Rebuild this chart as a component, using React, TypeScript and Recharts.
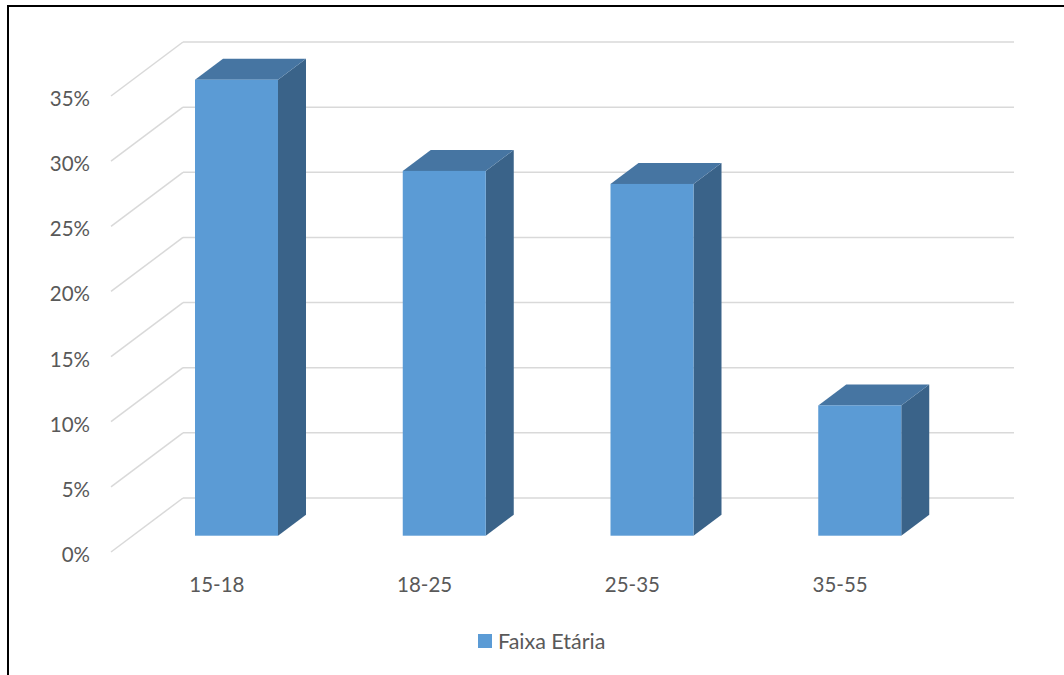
import React from "react";
import { BarChart, Bar, XAxis, YAxis, CartesianGrid, Legend } from "recharts";

// Age-group distribution (percent of respondents)
const categories = ["15-18", "18-25", "25-35", "35-55"];
const shares = [35, 28, 27, 10];
const yTicks = [0, 5, 10, 15, 20, 25, 30, 35];
const seriesName = "Faixa Etária";

const data = categories.map((faixa, i) => ({ faixa, valor: shares[i] }));

// Oblique projection used for the pseudo-3D look
const FLOOR_DX = -72; // back wall -> front edge of the floor
const FLOOR_DY = 54;
const BAR_DX = -50; // back wall -> front face of the columns
const BAR_DY = 37.7;
const DEPTH_DX = 28; // column thickness
const DEPTH_DY = -21;

const FRONT = "#5B9BD5";
const TOP = "#4675A2";
const SIDE = "#3A6389";
const GRID = "#D9D9D9";
const TEXT = "#595959";
const FONT = "Lato, 'Liberation Sans', sans-serif";

const Column = (props: any) => {
  const { x, y, width, height } = props;
  if (height == null || width == null) return null;
  const fx = x + BAR_DX;
  const fy = y + BAR_DY;
  const pts = (arr: number[][]) => arr.map((p) => p.join(",")).join(" ");
  return (
    <g>
      <polygon
        points={pts([
          [fx + width, fy],
          [fx + width + DEPTH_DX, fy + DEPTH_DY],
          [fx + width + DEPTH_DX, fy + height + DEPTH_DY],
          [fx + width, fy + height],
        ])}
        fill={SIDE}
      />
      <polygon
        points={pts([
          [fx, fy],
          [fx + width, fy],
          [fx + width + DEPTH_DX, fy + DEPTH_DY],
          [fx + DEPTH_DX, fy + DEPTH_DY],
        ])}
        fill={TOP}
      />
      <rect x={fx} y={fy} width={width} height={height} fill={FRONT} />
    </g>
  );
};

const YTick = (props: any) => {
  const { x, y, payload } = props;
  const ex = x + FLOOR_DX;
  const ey = y + FLOOR_DY;
  return (
    <g>
      <line x1={x} y1={y} x2={ex} y2={ey} stroke={GRID} strokeWidth={1.5} />
      <text
        x={ex - 21}
        y={ey + 2}
        textAnchor="end"
        dominantBaseline="central"
        fill={TEXT}
        fontSize={20.5}
        fontFamily={FONT}
      >
        {`${payload.value}%`}
      </text>
    </g>
  );
};

const XTick = (props: any) => {
  const { x, y, payload } = props;
  return (
    <text
      x={x + FLOOR_DX + 2}
      y={y + 86}
      textAnchor="middle"
      dominantBaseline="central"
      fill={TEXT}
      fontSize={20.5}
      fontFamily={FONT}
    >
      {payload.value}
    </text>
  );
};

const LegendContent = () => (
  <div
    style={{
      height: 30,
      display: "flex",
      alignItems: "center",
      fontFamily: FONT,
      fontSize: 21.5,
      color: TEXT,
      whiteSpace: "nowrap",
    }}
  >
    <span
      style={{
        display: "inline-block",
        width: 14,
        height: 14,
        background: FRONT,
        marginRight: 6,
      }}
    />
    <span>{seriesName}</span>
  </div>
);

export default function App() {
  return (
    <div style={{ position: "absolute", left: 0, top: 0, width: 1064, height: 675, background: "#fff" }}>
      <BarChart
        width={1064}
        height={675}
        data={data}
        margin={{ top: 42, right: 50, bottom: 19, left: 0 }}
        barSize={83}
      >
        <CartesianGrid vertical={false} stroke={GRID} strokeWidth={1.5} />
        <XAxis
          dataKey="faixa"
          height={128}
          axisLine={false}
          tickLine={false}
          tickSize={0}
          tickMargin={0}
          tick={<XTick />}
          interval={0}
        />
        <YAxis
          width={183}
          domain={[0, 35]}
          ticks={yTicks}
          axisLine={false}
          tickLine={false}
          tickSize={0}
          tickMargin={0}
          tick={<YTick />}
          interval={0}
        />
        <Legend
          verticalAlign="bottom"
          content={<LegendContent />}
          wrapperStyle={{ left: 478, width: 200, height: 30 }}
        />
        <Bar dataKey="valor" name={seriesName} isAnimationActive={false} shape={<Column />} />
      </BarChart>
      <div
        style={{
          position: "absolute",
          left: 7,
          top: 5,
          right: 0,
          bottom: 0,
          borderTop: "2px solid #000",
          borderLeft: "2px solid #000",
          pointerEvents: "none",
        }}
      />
    </div>
  );
}
